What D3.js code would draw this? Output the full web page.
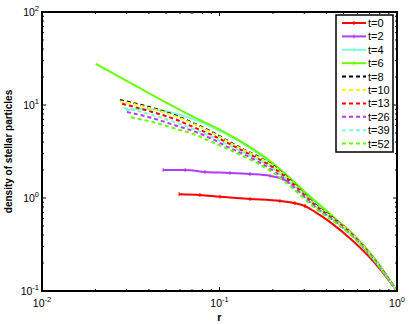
<!DOCTYPE html>
<html>
<head>
<meta charset="utf-8">
<script src="https://cdn.jsdelivr.net/npm/d3@7"></script>
<style>
  body { margin: 0; background: #fff; }
  text { font-family: "Liberation Sans", Arial, sans-serif; }
</style>
</head>
<body>
<script>
// series names and colours
var names = ["t=0", "t=2", "t=4", "t=6", "t=8", "t=10", "t=13", "t=26", "t=39", "t=52"];
var colors = ["#ff0000", "#b23bff", "#7fffd4", "#66ff00", "#000000", "#ffff00", "#ff0000", "#b23bff", "#7fffd4", "#66ff00"];
var dashed = [false, false, false, false, true, true, true, true, true, true];

// r values and densities
var r_t0  = [0.0592, 0.0776, 0.1007, 0.1486, 0.219, 0.266, 0.303, 0.345, 0.420, 0.565, 0.751, 1];
var d_t0  = [1.10, 1.08, 1.03, 0.976, 0.93, 0.88, 0.82, 0.71, 0.55, 0.345, 0.20, 0.1];
var r_t2  = [0.0481, 0.0640, 0.0828, 0.1146, 0.1486, 0.1928, 0.228, 0.266, 0.303, 0.368, 0.459, 0.565, 0.751, 1];
var d_t2  = [2.00, 2.00, 1.90, 1.86, 1.81, 1.73, 1.60, 1.35, 1.08, 0.78, 0.55, 0.39, 0.21, 0.1];
var r_t4  = [0.0297, 0.0380, 0.0493, 0.0682, 0.1008, 0.1486, 0.2495, 0.303, 0.368, 0.459, 0.565, 0.751, 1];
var d_t4  = [8.83, 9.06, 8.61, 7.24, 5.25, 3.45, 1.58, 1.13, 0.81, 0.57, 0.40, 0.217, 0.1];
var r_t6  = [0.0201, 0.0371, 0.0682, 0.1146, 0.1486, 0.1928, 0.2495, 0.303, 0.368, 0.459, 0.565, 0.751, 1];
var d_t6  = [27.6, 14.5, 7.8, 4.75, 3.53, 2.50, 1.64, 1.16, 0.84, 0.58, 0.41, 0.221, 0.1];

var r_late = [0.0401, 0.0577, 0.0710, 0.0907, 0.1116, 0.1355, 0.1626, 0.2056, 0.2495, 0.354, 0.459, 0.565, 0.751, 1];
var r_t8  = [0.0275].concat(r_late);
var d_t8  = [11.3, 9.5, 7.6, 6.4, 5.13, 4.10, 3.36, 2.83, 2.15, 1.56, 0.82, 0.566, 0.40, 0.215, 0.1];
var r_t10 = [0.0275].concat(r_late);
var d_t10 = [11.0, 9.3, 7.45, 6.3, 5.05, 4.04, 3.31, 2.79, 2.12, 1.54, 0.81, 0.56, 0.40, 0.215, 0.1];
var r_t13 = [0.0283].concat(r_late);
var d_t13 = [10.3, 8.6, 6.9, 5.8, 4.75, 3.90, 3.20, 2.69, 2.05, 1.52, 0.80, 0.555, 0.395, 0.213, 0.1];
var r_t26 = [0.0301].concat(r_late);
var d_t26 = [8.4, 7.4, 5.95, 5.25, 4.31, 3.53, 2.97, 2.50, 1.90, 1.42, 0.77, 0.54, 0.385, 0.21, 0.1];
var r_t39 = [0.0290].concat(r_late);
var d_t39 = [9.3, 8.0, 6.4, 5.52, 4.53, 3.72, 3.12, 2.63, 2.00, 1.49, 0.79, 0.55, 0.39, 0.212, 0.1];
var r_t52 = [0.0317].concat(r_late);
var d_t52 = [7.4, 6.7, 5.5, 4.87, 4.0, 3.36, 2.83, 2.38, 1.81, 1.35, 0.75, 0.53, 0.38, 0.208, 0.1];

var xTicks = [0.01, 0.1, 1];
var yTicks = [0.1, 1, 10, 100];
var xTickExp = ["-2", "-1", "0"];
var yTickExp = ["-1", "0", "1", "2"];

var rs = [r_t0, r_t2, r_t4, r_t6, r_t8, r_t10, r_t13, r_t26, r_t39, r_t52];
var ds = [d_t0, d_t2, d_t4, d_t6, d_t8, d_t10, d_t13, d_t26, d_t39, d_t52];

var width = 409, height = 324;
var margin = {left: 42, top: 12, right: 12, bottom: 33};

var svg = d3.select("body").append("svg")
    .attr("width", width)
    .attr("height", height);

var x = d3.scaleLog().domain([0.01, 1]).range([margin.left, width - margin.right]);
var y = d3.scaleLog().domain([0.1, 100]).range([height - margin.bottom, margin.top]);

// minor ticks
var xMinor = [], yMinor = [];
[0.01, 0.1].forEach(function (b) { for (var k = 2; k <= 9; k++) xMinor.push(b * k); });
[0.1, 1, 10].forEach(function (b) { for (var k = 2; k <= 9; k++) yMinor.push(b * k); });

var g = svg.append("g");
var x0 = x.range()[0], x1 = x.range()[1], y0 = y.range()[0], y1 = y.range()[1];

function tickLines(vals, len) {
  vals.forEach(function (v) {
    var px = x(v);
    g.append("line").attr("x1", px).attr("x2", px).attr("y1", y0).attr("y2", y0 - len);
    g.append("line").attr("x1", px).attr("x2", px).attr("y1", y1).attr("y2", y1 + len);
  });
}
function tickLinesY(vals, len) {
  vals.forEach(function (v) {
    var py = y(v);
    g.append("line").attr("y1", py).attr("y2", py).attr("x1", x0).attr("x2", x0 + len);
    g.append("line").attr("y1", py).attr("y2", py).attr("x1", x1).attr("x2", x1 - len);
  });
}
tickLines(xTicks, 4);
tickLines(xMinor, 2);
tickLinesY(yTicks, 4);
tickLinesY(yMinor, 2);
g.selectAll("line").attr("stroke", "#000").attr("stroke-width", 1);

// curves
var line = d3.line()
    .x(function (p) { return x(p[0]); })
    .y(function (p) { return y(p[1]); })
    .curve(d3.curveMonotoneX);

var order = [0, 1, 2, 3, 4, 5, 6, 8, 7, 9];
svg.append("g").selectAll("path")
  .data(order)
  .enter().append("path")
    .attr("d", function (i) { return line(d3.zip(rs[i], ds[i])); })
    .attr("fill", "none")
    .attr("stroke", function (i) { return colors[i]; })
    .attr("stroke-width", 2)
    .attr("stroke-dasharray", function (i) { return dashed[i] ? "4,3" : null; });

// small markers on the early solid curves
[0, 1].forEach(function (i) {
  svg.append("g").selectAll("line")
    .data(d3.zip(rs[i], ds[i]).slice(0, 7))
    .enter().append("line")
      .attr("x1", function (p) { return x(p[0]); })
      .attr("x2", function (p) { return x(p[0]); })
      .attr("y1", function (p) { return y(p[1]) - 2; })
      .attr("y2", function (p) { return y(p[1]) + 2; })
      .attr("stroke", colors[i])
      .attr("stroke-width", 1);
});

// frame
svg.append("rect")
    .attr("x", x0).attr("y", y1)
    .attr("width", x1 - x0).attr("height", y0 - y1)
    .attr("fill", "none").attr("stroke", "#000").attr("stroke-width", 2);

// tick labels
xTicks.forEach(function (v, i) {
  var t = svg.append("text").attr("x", x(v)).attr("y", y0 + 16)
      .attr("text-anchor", "middle").attr("font-size", 10.5);
  t.append("tspan").text("10");
  t.append("tspan").attr("dy", -5).attr("font-size", 7.5).text(xTickExp[i]);
});
yTicks.forEach(function (v, i) {
  var t = svg.append("text").attr("x", x0 - 3).attr("y", y(v) + 4)
      .attr("text-anchor", "end").attr("font-size", 10.5);
  t.append("tspan").text("10");
  t.append("tspan").attr("dy", -5).attr("font-size", 7.5).text(yTickExp[i]);
});

// axis titles
svg.append("text").attr("x", (x0 + x1) / 2).attr("y", 321)
    .attr("text-anchor", "middle").attr("font-size", 11).attr("font-weight", "bold").text("r");
svg.append("text")
    .attr("transform", "translate(12," + ((y0 + y1) / 2) + ") rotate(-90)")
    .attr("text-anchor", "middle").attr("font-size", 10).attr("font-weight", "bold")
    .text("density of stellar particles");

// legend
var lg = svg.append("g").attr("transform", "translate(336,15)");
lg.append("rect").attr("width", 57).attr("height", 137)
    .attr("fill", "#fff").attr("stroke", "#000").attr("stroke-width", 1.5);
names.forEach(function (n, i) {
  var yy = 8 + i * 13.4;
  lg.append("line").attr("x1", 6).attr("x2", 30).attr("y1", yy).attr("y2", yy)
    .attr("stroke", colors[i]).attr("stroke-width", 2)
    .attr("stroke-dasharray", dashed[i] ? "4,3" : null);
  if (!dashed[i]) {
    lg.append("line").attr("x1", 18).attr("x2", 18).attr("y1", yy - 2).attr("y2", yy + 2)
      .attr("stroke", colors[i]).attr("stroke-width", 1);
  }
  lg.append("text").attr("x", 32).attr("y", yy + 4).attr("font-size", 11).text(n);
});
</script>
</body>
</html>
